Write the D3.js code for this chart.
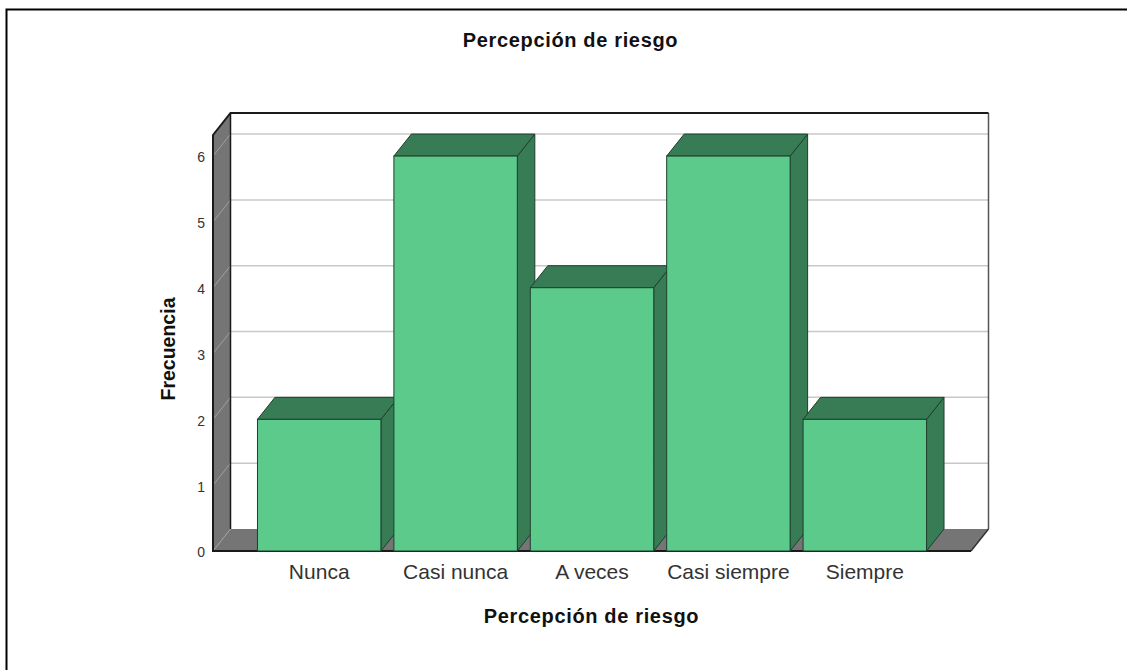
<!DOCTYPE html>
<html>
<head>
<meta charset="utf-8">
<script src="https://cdn.jsdelivr.net/npm/d3@7"></script>
<style>
  html, body { margin: 0; padding: 0; background: #fff; }
  svg { display: block; }
</style>
</head>
<body>
<svg id="chart"></svg>
<script>
/* data */
const categories = ["Nunca", "Casi nunca", "A veces", "Casi siempre", "Siempre"];
const frequencies = [2, 6, 4, 6, 2];
const y_ticks = [0, 1, 2, 3, 4, 5, 6];
const chart_title = "Percepción de riesgo";
const x_title = "Percepción de riesgo";
const y_title = "Frecuencia";

/* display parameters */
const width = 1127,
  height = 670,
  depth_x = 17.5, // shift of the back wall
  depth_y = -22,
  left = 213,
  right = 971,
  bottom = 551,
  top_edge = 135,
  y_max = 6.32,
  font = '"Liberation Sans", Arial, sans-serif';

const wall = "#757575",
  bar_front = "#5bca8a",
  bar_side = "#387c55",
  bar_edge = "#1f3f2c",
  line = "#1a1a1a",
  grid = "#c8c8c8";

const svg = d3.select("#chart").attr("width", width).attr("height", height);

/* scales */
const x = d3.scaleBand()
  .domain(categories)
  .range([251, 933])
  .paddingInner(0.095)
  .paddingOuter(0.0475);

const y = d3.scaleLinear()
  .domain([0, y_max])
  .range([bottom, top_edge]);

const poly = pts => pts.map(p => p.join(",")).join(" ");

/* frame */
svg.append("path")
  .attr("d", `M6.5,${height} V9.5 H${width}`)
  .attr("fill", "none")
  .attr("stroke", "#000")
  .attr("stroke-width", 2);

/* walls */
svg.append("polygon")
  .attr("points", poly([
    [left, top_edge],
    [left + depth_x, top_edge + depth_y],
    [left + depth_x, bottom + depth_y],
    [left, bottom]
  ]))
  .attr("fill", wall);

svg.append("polygon")
  .attr("points", poly([
    [left, bottom],
    [left + depth_x, bottom + depth_y],
    [right + depth_x, bottom + depth_y],
    [right, bottom]
  ]))
  .attr("fill", wall);

/* grid lines: faint on the side wall, light grey on the back wall */
let grid_lines = svg.append("g")
  .selectAll("g")
  .data(y_ticks.filter(d => d > 0))
  .join("g");

grid_lines.append("line")
  .attr("x1", left).attr("y1", d => y(d))
  .attr("x2", left + depth_x).attr("y2", d => y(d) + depth_y)
  .attr("stroke", "#a0a0a0");

grid_lines.append("line")
  .attr("x1", left + depth_x).attr("y1", d => y(d) + depth_y)
  .attr("x2", right + depth_x).attr("y2", d => y(d) + depth_y)
  .attr("stroke", grid)
  .attr("stroke-width", 1.5);

svg.append("line")
  .attr("x1", left).attr("y1", bottom)
  .attr("x2", left + depth_x).attr("y2", bottom + depth_y)
  .attr("stroke", "#a0a0a0");

/* wall outlines */
svg.append("path")
  .attr("d", `M${right + depth_x},${bottom + depth_y} V${top_edge + depth_y}`)
  .attr("fill", "none")
  .attr("stroke", "#555")
  .attr("stroke-width", 1.5);

svg.append("path")
  .attr("d", `M${right + depth_x},${bottom + depth_y} L${right},${bottom}`)
  .attr("fill", "none")
  .attr("stroke", "#333")
  .attr("stroke-width", 1.5);

svg.append("path")
  .attr("d", `M${right},${bottom} H${left} V${top_edge} L${left + depth_x},${top_edge + depth_y} H${right + depth_x}`)
  .attr("fill", "none")
  .attr("stroke", line)
  .attr("stroke-width", 2);

svg.append("path")
  .attr("d", `M${left + depth_x},${top_edge + depth_y} V${bottom + depth_y}`)
  .attr("fill", "none")
  .attr("stroke", line)
  .attr("stroke-width", 1.5);

/* bars */
const bars = svg.append("g")
  .selectAll("g")
  .data(categories.map((c, i) => ({ c, v: frequencies[i] })))
  .join("g");

bars.append("polygon")
  .attr("points", d => {
    let x1 = x(d.c) + x.bandwidth();
    return poly([
      [x1, y(d.v)],
      [x1 + depth_x, y(d.v) + depth_y],
      [x1 + depth_x, bottom + depth_y],
      [x1, bottom]
    ]);
  })
  .attr("fill", bar_side)
  .attr("stroke", bar_edge);

bars.append("polygon")
  .attr("points", d => {
    let x0 = x(d.c), x1 = x0 + x.bandwidth();
    return poly([
      [x0, y(d.v)],
      [x0 + depth_x, y(d.v) + depth_y],
      [x1 + depth_x, y(d.v) + depth_y],
      [x1, y(d.v)]
    ]);
  })
  .attr("fill", bar_side)
  .attr("stroke", bar_edge);

bars.append("rect")
  .attr("x", d => x(d.c))
  .attr("y", d => y(d.v))
  .attr("width", x.bandwidth())
  .attr("height", d => bottom - y(d.v))
  .attr("fill", bar_front)
  .attr("stroke", bar_edge);

/* axes */
const y_axis = d3.axisLeft(y)
  .tickValues(y_ticks)
  .tickFormat(d3.format("d"))
  .tickSize(0)
  .tickPadding(8);

svg.append("g")
  .attr("transform", `translate(${left},0)`)
  .call(y_axis)
  .call(g => g.select(".domain").remove())
  .call(g => g.selectAll("text")
    .attr("font-size", 14)
    .attr("font-family", font)
    .attr("fill", "#333")
    .attr("dy", "0.42em"));

const x_axis = d3.axisBottom(x).tickSize(0).tickPadding(13);

svg.append("g")
  .attr("transform", `translate(0,${bottom})`)
  .call(x_axis)
  .call(g => g.select(".domain").remove())
  .call(g => g.selectAll("text")
    .attr("font-size", 21)
    .attr("font-family", font)
    .attr("fill", "#333"));

/* titles */
svg.append("text")
  .attr("x", 570.5).attr("y", 47)
  .attr("text-anchor", "middle")
  .attr("font-family", font)
  .attr("font-size", 20)
  .attr("font-weight", "bold")
  .attr("letter-spacing", 0.65)
  .attr("fill", "#111")
  .text(chart_title);

svg.append("text")
  .attr("x", 591.5).attr("y", 623)
  .attr("text-anchor", "middle")
  .attr("font-family", font)
  .attr("font-size", 20)
  .attr("font-weight", "bold")
  .attr("letter-spacing", 0.65)
  .attr("fill", "#111")
  .text(x_title);

svg.append("text")
  .attr("transform", "translate(175,349) rotate(-90)")
  .attr("text-anchor", "middle")
  .attr("font-family", font)
  .attr("font-size", 19.5)
  .attr("font-weight", "bold")
  .attr("fill", "#111")
  .text(y_title);
</script>
</body>
</html>
